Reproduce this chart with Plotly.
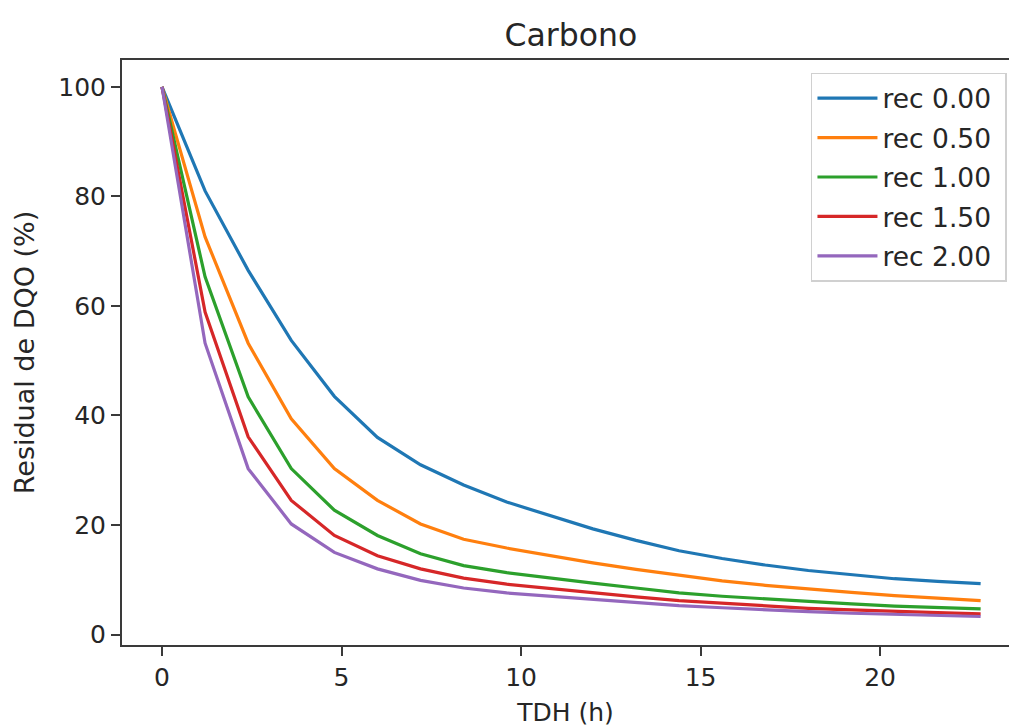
import plotly.graph_objects as go

tdh = [0.0, 1.2, 2.4, 3.6, 4.8, 6.0, 7.2, 8.4, 9.6, 10.8,
       12.0, 13.2, 14.4, 15.6, 16.8, 18.0, 19.2, 20.4, 21.6, 22.8]

rec_000 = [100, 81.0, 66.5, 53.7, 43.5, 36.0, 31.0, 27.3, 24.2, 21.7,
           19.3, 17.2, 15.3, 13.9, 12.7, 11.7, 10.9, 10.2, 9.7, 9.3]
rec_050 = [100, 72.6, 53.2, 39.4, 30.3, 24.5, 20.2, 17.4, 15.8, 14.4,
           13.1, 11.9, 10.8, 9.8, 9.0, 8.3, 7.7, 7.1, 6.6, 6.2]
rec_100 = [100, 65.3, 43.4, 30.3, 22.7, 18.1, 14.75, 12.6, 11.3, 10.3,
           9.4, 8.5, 7.6, 7.0, 6.5, 6.0, 5.6, 5.2, 4.9, 4.7]
rec_150 = [100, 58.9, 36.1, 24.5, 18.1, 14.4, 12.0, 10.3, 9.2, 8.4,
           7.6, 6.9, 6.2, 5.7, 5.2, 4.8, 4.5, 4.2, 4.0, 3.8]
rec_200 = [100, 53.2, 30.3, 20.2, 15.0, 12.0, 9.9, 8.5, 7.6, 7.0,
           6.4, 5.8, 5.3, 4.9, 4.5, 4.2, 3.9, 3.7, 3.5, 3.3]

series_names = ["rec 0.00", "rec 0.50", "rec 1.00", "rec 1.50", "rec 2.00"]
series_values = [rec_000, rec_050, rec_100, rec_150, rec_200]
colors = ["#1f77b4", "#ff7f0e", "#2ca02c", "#d62728", "#9467bd"]

x_ticks = [0, 5, 10, 15, 20]
y_ticks = [0, 20, 40, 60, 80, 100]

FONT = "DejaVu Sans"
TXT = "#262626"
AX = "#3a3a3a"

fig = go.Figure()
for i, (name, vals) in enumerate(zip(series_names, series_values)):
    fig.add_trace(go.Scatter(
        x=tdh, y=vals, mode="lines", name=name + "\u00a0",
        legendgroup=f"g{i}",
        line=dict(color=colors[i], width=3.2),
    ))

fig.update_layout(
    width=1009, height=727,
    margin=dict(l=122, r=0, t=60, b=82),
    paper_bgcolor="white", plot_bgcolor="white",
    font=dict(family=FONT, size=25, color=TXT),
    title=dict(text="Carbono", x=0.506, xref="paper", xanchor="center",
               y=1 - 35 / 727, yref="container", yanchor="middle",
               font=dict(family=FONT, size=31.5, color=TXT)),
    showlegend=True,
    legend=dict(x=0.9977, y=0.978, xanchor="right", yanchor="top",
                bgcolor="rgba(255,255,255,0.8)", bordercolor="#d0d0d0",
                borderwidth=1.5, font=dict(family=FONT, size=26.5, color=TXT),
                tracegroupgap=2, itemwidth=60),
    xaxis=dict(range=[-1.114, 23.59], tickvals=x_ticks, automargin=False,
               showline=True, linecolor=AX, linewidth=2, mirror=True,
               ticks="outside", ticklen=9, tickwidth=2, tickcolor=AX,
               showgrid=False, zeroline=False,
               tickfont=dict(family=FONT, size=25, color=TXT),
               title=dict(text="TDH (h)", standoff=21,
                          font=dict(family=FONT, size=25, color=TXT))),
    yaxis=dict(range=[-1.9, 104.9], tickvals=y_ticks, ticksuffix=" ",
               automargin=False,
               showline=True, linecolor=AX, linewidth=2, mirror=False,
               ticks="outside", ticklen=9, tickwidth=2, tickcolor=AX,
               showgrid=False, zeroline=False,
               tickfont=dict(family=FONT, size=25, color=TXT),
               title=dict(text="Residual de DQO (%)", standoff=16,
                          font=dict(family=FONT, size=27, color=TXT))),
)

fig.write_html("out.html", config={"displayModeBar": False},
               post_script="document.body.style.margin='0';")
